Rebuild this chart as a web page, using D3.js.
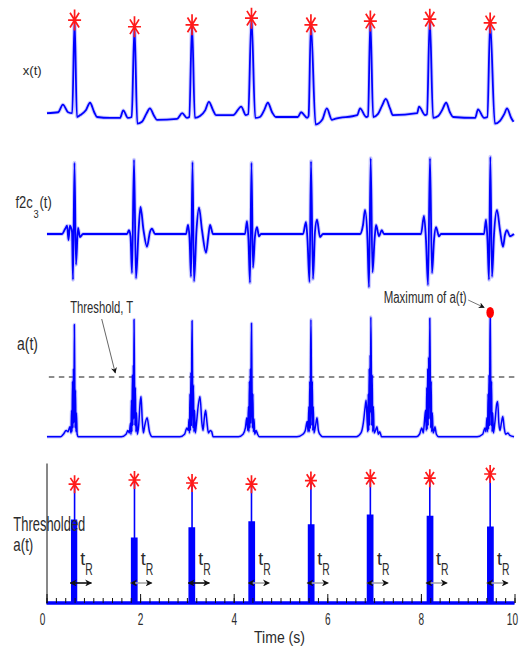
<!DOCTYPE html>
<html>
<head>
<meta charset="utf-8">
<script src="https://cdn.jsdelivr.net/npm/d3@7"></script>
<style>
    body { margin: 0; background: #fff; }
    svg { display: block; }
    text { font-family: "Liberation Sans", Arial, sans-serif; fill: #2b2b2b; }
</style>
</head>
<body>
<svg id="chart" width="520" height="654"></svg>
<script>
// ---- data (time in s) ----
const majorTicks = [0, 2, 4, 6, 8, 10];
const rPeakTimes = [0.60, 1.88, 3.11, 4.38, 5.65, 6.92, 8.19, 9.48];

// x(t): raw ECG
const xSignal = [
    [0.01,0.04],[0.25,0.05],[0.35,0.13],[0.46,0.05],[0.55,0.04],[0.60,1.02],[0.65,0.00],[0.72,0.02],[0.84,0.07],[0.93,0.15],[1.02,0.05],[1.08,0.00],
    [1.36,-0.01],[1.57,-0.01],[1.64,0.07],[1.74,-0.01],[1.82,0.00],[1.88,0.95],[1.94,-0.07],[2.04,-0.05],[2.13,0.03],[2.21,0.09],[2.30,0.01],[2.36,-0.03],
    [2.79,-0.02],[2.90,0.04],[3.00,-0.01],[3.05,0.00],[3.11,0.97],[3.17,-0.01],[3.28,0.01],[3.39,0.07],[3.47,0.16],[3.56,0.07],[3.62,0.02],
    [3.99,0.02],[4.16,0.11],[4.26,0.02],[4.31,0.03],[4.38,1.04],[4.46,-0.01],[4.56,0.00],[4.65,0.07],[4.73,0.15],[4.82,0.05],[4.90,0.00],
    [5.37,0.00],[5.44,0.05],[5.57,-0.01],[5.60,0.01],[5.65,0.97],[5.75,-0.08],[5.89,-0.03],[5.99,0.09],[6.10,-0.03],[6.16,-0.02],
    [6.64,0.02],[6.70,0.09],[6.83,0.00],[6.87,0.01],[6.92,1.01],[6.98,0.00],[7.08,0.03],[7.17,0.12],[7.25,0.19],[7.34,0.09],[7.40,0.02],
    [7.92,0.04],[7.96,0.11],[8.09,0.02],[8.13,0.03],[8.19,1.03],[8.26,-0.01],[8.37,0.01],[8.45,0.07],[8.54,0.15],[8.62,0.05],[8.69,0.00],
    [9.16,-0.01],[9.22,0.08],[9.35,-0.01],[9.42,0.00],[9.48,0.99],[9.58,-0.07],[9.69,-0.04],[9.78,0.03],[9.84,0.09],[9.93,-0.01],[9.98,-0.05]
];

// f2c3(t): wavelet detail
const f2c3Signal = [
    [0.01,0],[0.33,0],[0.40,0.07],[0.44,0.11],[0.47,-0.08],[0.50,0.11],[0.545,0.03],[0.566,-0.61],[0.598,0.95],[0.63,-0.41],[0.673,0.08],[0.716,-0.04],[0.78,0],
    [1.72,0],[1.763,0.05],[1.795,-0.03],[1.827,-0.52],[1.87,0.99],[1.912,-0.59],[1.966,0.03],[2.009,0.36],[2.073,0.05],[2.147,-0.17],[2.212,0.03],[2.254,0.07],[2.318,0],
    [2.981,0],[3.024,0.12],[3.056,-0.05],[3.088,-0.57],[3.12,0.96],[3.152,-0.63],[3.205,0.05],[3.259,0.35],[3.323,0.05],[3.408,-0.25],[3.462,-0.01],[3.494,0.12],[3.558,0],
    [4.241,0],[4.284,0.17],[4.316,-0.08],[4.348,-0.65],[4.38,0.95],[4.412,-0.45],[4.455,-0.03],[4.498,0.09],[4.541,-0.03],[4.583,0],
    [5.481,0],[5.545,0.16],[5.577,-0.08],[5.62,-0.64],[5.652,0.97],[5.694,-0.6],[5.737,0.03],[5.78,0.19],[5.844,-0.04],[5.908,0],
    [6.699,0],[6.763,0.12],[6.806,0.32],[6.859,-0.08],[6.891,-0.71],[6.927,1.01],[6.966,-0.51],[7.009,-0.08],[7.041,0.12],[7.105,-0.03],[7.162,0.05],[7.212,0],
    [8.002,0],[8.066,0.24],[8.109,-0.08],[8.152,-0.68],[8.194,1.01],[8.237,-0.52],[8.28,-0.08],[8.323,0.09],[8.387,-0.03],[8.429,0],
    [9.348,0],[9.391,0.19],[9.423,-0.08],[9.455,-0.61],[9.483,1.03],[9.519,-0.57],[9.562,-0.01],[9.626,0.32],[9.69,0.05],[9.754,-0.17],[9.797,-0.01],[9.84,0.05],[9.904,-0.03],[9.989,0]
];

// a(t): energy signal
const aSignal = [
    [0.01,0.01],[0.30,0.01],[0.36,0.03],[0.42,0.06],[0.46,0.05],[0.50,0.09],[0.525,0.04],[0.535,0.22],[0.545,0.05],[0.555,0.45],[0.565,0.08],[0.575,0.55],[0.585,0.12],[0.595,0.90],[0.605,0.40],[0.612,0.08],[0.62,0.38],[0.63,0.05],[0.64,0.20],[0.655,0.03],[0.68,0.01],
    [1.60,0.01],[1.70,0.03],[1.74,0.06],[1.77,0.04],[1.795,0.12],[1.805,0.03],[1.815,0.30],[1.825,0.05],[1.835,0.50],[1.845,0.10],[1.855,0.58],[1.862,0.15],[1.87,0.94],[1.88,0.50],[1.89,0.10],[1.90,0.40],[1.91,0.05],[1.925,0.20],[1.94,0.03],[1.97,0.10],[2.00,0.28],[2.02,0.33],[2.045,0.15],[2.07,0.04],[2.10,0.10],[2.15,0.16],[2.20,0.05],[2.26,0.01],
    [2.85,0.01],[2.95,0.03],[3.00,0.08],[3.03,0.06],[3.045,0.15],[3.055,0.04],[3.065,0.35],[3.075,0.06],[3.085,0.52],[3.095,0.10],[3.102,0.58],[3.11,0.93],[3.12,0.50],[3.13,0.08],[3.14,0.42],[3.15,0.05],[3.165,0.22],[3.18,0.04],[3.20,0.10],[3.24,0.25],[3.28,0.33],[3.32,0.12],[3.345,0.06],[3.37,0.15],[3.40,0.22],[3.43,0.12],[3.46,0.04],[3.50,0.06],[3.53,0.05],[3.56,0.01],
    [4.10,0.01],[4.20,0.03],[4.25,0.08],[4.28,0.16],[4.30,0.06],[4.315,0.25],[4.325,0.05],[4.335,0.45],[4.345,0.08],[4.355,0.55],[4.365,0.12],[4.372,0.58],[4.38,0.91],[4.39,0.45],[4.40,0.08],[4.41,0.35],[4.42,0.05],[4.435,0.15],[4.45,0.03],[4.48,0.06],[4.51,0.03],[4.55,0.01],
    [5.35,0.01],[5.48,0.03],[5.53,0.06],[5.57,0.13],[5.59,0.05],[5.605,0.25],[5.615,0.05],[5.625,0.45],[5.635,0.08],[5.642,0.58],[5.65,0.94],[5.66,0.55],[5.67,0.10],[5.68,0.45],[5.69,0.06],[5.70,0.25],[5.715,0.04],[5.75,0.10],[5.78,0.16],[5.81,0.06],[5.84,0.03],[5.90,0.01],
    [6.62,0.01],[6.72,0.04],[6.77,0.12],[6.81,0.25],[6.83,0.30],[6.85,0.15],[6.865,0.05],[6.875,0.35],[6.885,0.06],[6.895,0.55],[6.905,0.10],[6.915,0.66],[6.922,0.20],[6.93,0.96],[6.94,0.60],[6.95,0.10],[6.96,0.50],[6.97,0.05],[6.985,0.25],[7.00,0.04],[7.03,0.06],[7.06,0.09],[7.09,0.03],[7.12,0.05],[7.16,0.01],
    [7.90,0.01],[7.97,0.03],[8.02,0.08],[8.05,0.04],[8.08,0.15],[8.10,0.22],[8.115,0.06],[8.125,0.40],[8.135,0.07],[8.145,0.55],[8.155,0.10],[8.165,0.64],[8.175,0.15],[8.19,0.95],[8.20,0.55],[8.21,0.08],[8.22,0.45],[8.23,0.05],[8.245,0.20],[8.26,0.04],[8.285,0.06],[8.30,0.09],[8.33,0.03],[8.38,0.01],
    [9.20,0.01],[9.32,0.03],[9.37,0.08],[9.39,0.05],[9.41,0.16],[9.425,0.05],[9.435,0.35],[9.445,0.07],[9.455,0.50],[9.465,0.10],[9.472,0.58],[9.48,1.00],[9.49,0.55],[9.50,0.10],[9.51,0.45],[9.52,0.05],[9.535,0.20],[9.55,0.04],[9.58,0.12],[9.62,0.27],[9.64,0.29],[9.665,0.12],[9.69,0.06],[9.72,0.12],[9.75,0.17],[9.78,0.08],[9.81,0.03],[9.86,0.04],[9.90,0.02],[9.99,0.01]
];
const threshold = 0.484;

// thresholded a(t): one pulse per beat
const thrStart = [0.54, 1.82, 3.05, 4.33, 5.60, 6.86, 8.14, 9.43];
const thrEnd   = [0.64, 1.93, 3.16, 4.44, 5.71, 6.97, 8.25, 9.54];
const thrLevel = [0.69, 0.54, 0.625, 0.675, 0.65, 0.73, 0.72, 0.63];
const thrPeak  = [0.99, 1.025, 1.0, 0.99, 1.02, 1.04, 1.04, 1.075];

// t_R windows
const tRStart = [0.51, 1.80, 3.03, 4.31, 5.57, 6.85, 8.11, 9.41];
const tRSpan = 0.45;
const tRShade = ["dark", "light", "dark", "light", "light", "light", "light", "light"];

// ---- scales ----
const svg = d3.select("#chart");
const x = d3.scaleLinear().domain([0, 10]).range([46.5, 514.5]);
const yX = d3.scaleLinear().domain([0, 1]).range([117, 22]);
const yF = d3.scaleLinear().domain([0, 1]).range([234, 159]);
const yA = d3.scaleLinear().domain([0, 1]).range([438, 312]);
const yT = d3.scaleLinear().domain([0, 1.1667]).range([603, 463]);

const BLUE = "#0000ff";
const RED = "#ff1a1a";

// arrow heads
const defs = svg.append("defs");
function marker(id, color, size) {
    defs.append("marker")
        .attr("id", id)
        .attr("viewBox", "0 0 10 10")
        .attr("refX", 9)
        .attr("refY", 5)
        .attr("markerWidth", size)
        .attr("markerHeight", size)
        .attr("markerUnits", "userSpaceOnUse")
        .attr("orient", "auto-start-reverse")
        .append("path")
        .attr("d", "M0,0L10,5L0,10L3,5Z")
        .attr("fill", color);
}
marker("headK", "#111", 7);
marker("headS", "#111", 6);

// text helper, widths squeezed like the original figure
function label(str, px, py, size, len, anchor = "start") {
    return svg.append("text")
        .attr("x", px)
        .attr("y", py)
        .attr("font-size", size)
        .attr("text-anchor", anchor)
        .attr("textLength", len)
        .attr("lengthAdjust", "spacingAndGlyphs")
        .text(str);
}

// blue signal with a soft halo
function drawSignal(data, y, width) {
    const line = d3.line()
        .x(d => x(d[0]))
        .y(d => y(d[1]))
        .curve(d3.curveMonotoneX);
    svg.append("path")
        .datum(data)
        .attr("d", line)
        .attr("fill", "none")
        .attr("stroke", "#5a5aff")
        .attr("stroke-opacity", 0.3)
        .attr("stroke-width", width + 2)
        .attr("stroke-linejoin", "round");
    svg.append("path")
        .datum(data)
        .attr("d", line)
        .attr("fill", "none")
        .attr("stroke", BLUE)
        .attr("stroke-width", width)
        .attr("stroke-linejoin", "round");
}

// asterisk marker
function star(cx, cy, hw, hh) {
    const dx = hw * 0.7, dy = hh * 0.7;
    svg.append("path")
        .attr("d", `M${cx - hw},${cy}H${cx + hw}M${cx},${cy - hh}V${cy + hh}` +
            `M${cx - dx},${cy - dy}L${cx + dx},${cy + dy}M${cx - dx},${cy + dy}L${cx + dx},${cy - dy}`)
        .attr("stroke", RED)
        .attr("stroke-width", 1.7)
        .attr("fill", "none");
}

function nearest(data, t) {
    return data.reduce((a, b) => Math.abs(b[0] - t) < Math.abs(a[0] - t) ? b : a);
}

// ---- panel 1: x(t) ----
drawSignal(xSignal, yX, 1.8);
rPeakTimes.forEach(t => {
    const p = nearest(xSignal, t);
    star(x(p[0]), yX(p[1]), 6.5, 10.5);
});
label("x(t)", 22.7, 74.5, 13.5, 19);

// ---- panel 2: f2c3(t) ----
drawSignal(f2c3Signal, yF, 1.8);
const fLabel = svg.append("text")
    .attr("x", 15.5)
    .attr("y", 208)
    .attr("font-size", 16)
    .attr("textLength", 36.2)
    .attr("lengthAdjust", "spacingAndGlyphs");
fLabel.append("tspan").text("f2c");
fLabel.append("tspan").attr("font-size", 11.5).attr("dx", 1).attr("dy", 9.5).text("3");
fLabel.append("tspan").attr("dx", 1).attr("dy", -9.5).text("(t)");

// ---- panel 3: a(t) ----
svg.append("line")
    .attr("x1", x(0.05))
    .attr("x2", x(10))
    .attr("y1", yA(threshold))
    .attr("y2", yA(threshold))
    .attr("stroke", "#8c8c8c")
    .attr("stroke-width", 1.8)
    .attr("stroke-dasharray", "5.5,4.5");
drawSignal(aSignal, yA, 1.5);
label("a(t)", 17, 349.5, 17.5, 21);

// threshold note
const noteT = 1.18;
label("Threshold, T", x(noteT), yA(threshold) - 64, 16.5, 63, "middle");
svg.append("line")
    .attr("x1", x(noteT))
    .attr("y1", yA(threshold) - 58)
    .attr("x2", x(1.47))
    .attr("y2", yA(threshold) - 4)
    .attr("stroke", "#666")
    .attr("stroke-width", 1)
    .attr("marker-end", "url(#headS)");

// maximum of a(t)
const aMax = aSignal.reduce((a, b) => b[1] > a[1] ? b : a);
const mx = x(aMax[0]), my = yA(aMax[1]);
svg.append("ellipse")
    .attr("cx", mx)
    .attr("cy", my + 0.5)
    .attr("rx", 3.8)
    .attr("ry", 5.5)
    .attr("fill", "#ff0000");
label("Maximum of a(t)", mx - 23.5, my - 9, 16, 83, "end");
svg.append("line")
    .attr("x1", mx - 22)
    .attr("y1", my - 12)
    .attr("x2", mx - 6)
    .attr("y2", my - 4.5)
    .attr("stroke", "#777")
    .attr("stroke-width", 1)
    .attr("marker-end", "url(#headS)");

// ---- panel 4: thresholded a(t) ----
const pulses = [[0, 0]];
thrStart.forEach((s, i) => {
    const r = rPeakTimes[i];
    pulses.push([s, 0], [s, thrLevel[i]], [r, thrLevel[i]], [r, thrPeak[i]],
        [r, thrLevel[i]], [thrEnd[i], thrLevel[i]], [thrEnd[i], 0]);
});
pulses.push([10, 0]);

svg.append("path")
    .datum(pulses)
    .attr("d", d3.area().x(d => x(d[0])).y0(yT(0)).y1(d => yT(d[1])))
    .attr("fill", BLUE);
svg.append("path")
    .datum(pulses)
    .attr("d", d3.line().x(d => x(d[0])).y(d => yT(d[1])))
    .attr("fill", "none")
    .attr("stroke", BLUE)
    .attr("stroke-width", 1.6);
svg.append("path")
    .datum([[0, 0], [10, 0]])
    .attr("d", d3.line().x(d => x(d[0])).y(d => yT(d[1])))
    .attr("stroke", BLUE)
    .attr("stroke-width", 3.4);

rPeakTimes.forEach((t, i) => star(x(t), yT(thrPeak[i]), 6, 9));

// axes
svg.append("g")
    .attr("transform", `translate(0,${yT(0)})`)
    .call(d3.axisBottom(x).tickValues(x.ticks(50)).tickSize(-5).tickSizeOuter(0).tickFormat(""))
    .call(g => g.select(".domain").remove())
    .call(g => g.selectAll("line").attr("stroke", "#111"));

const xAxis = svg.append("g")
    .attr("transform", `translate(0,${yT(0)})`)
    .call(d3.axisBottom(x).tickValues(majorTicks).tickSize(-9).tickSizeOuter(0).tickPadding(10).tickFormat(d3.format("d")))
    .call(g => g.select(".domain").remove())
    .call(g => g.selectAll("line").attr("stroke", "#111"));
xAxis.selectAll("text")
    .attr("font-size", 16.5)
    .attr("font-family", "Liberation Sans, Arial, sans-serif")
    .attr("fill", "#2b2b2b")
    .attr("textLength", d => String(d).length * 5.6)
    .attr("lengthAdjust", "spacingAndGlyphs")
    .attr("text-anchor", d => d === 10 ? "end" : "middle")
    .attr("dx", d => d === 0 ? -4.5 : (d === 10 ? 3 : 0));

svg.append("g")
    .attr("transform", `translate(${x(0)},0)`)
    .call(d3.axisLeft(yT).tickValues([]).tickSizeOuter(0))
    .call(g => g.select(".domain").attr("stroke", "#111"));

label("Thresholded", 13.3, 531, 20, 72);
label("a(t)", 13.3, 551, 19, 20);
label("Time (s)", 279.5, 643.3, 16, 51, "middle");

// t_R arrows
const arrowY = yT(0.1667);
tRStart.forEach((s, i) => {
    svg.append("line")
        .attr("x1", x(s))
        .attr("x2", x(s + tRSpan))
        .attr("y1", arrowY)
        .attr("y2", arrowY)
        .attr("stroke", tRShade[i] === "dark" ? "#111" : "#a8a8a8")
        .attr("stroke-width", 1.6)
        .attr("marker-start", "url(#headK)")
        .attr("marker-end", "url(#headK)");
    label("t", x(s) + 10, arrowY - 18, 18, 5);
    label("R", x(s) + 15, arrowY - 8, 16.5, 7.5);
});
</script>
</body>
</html>
